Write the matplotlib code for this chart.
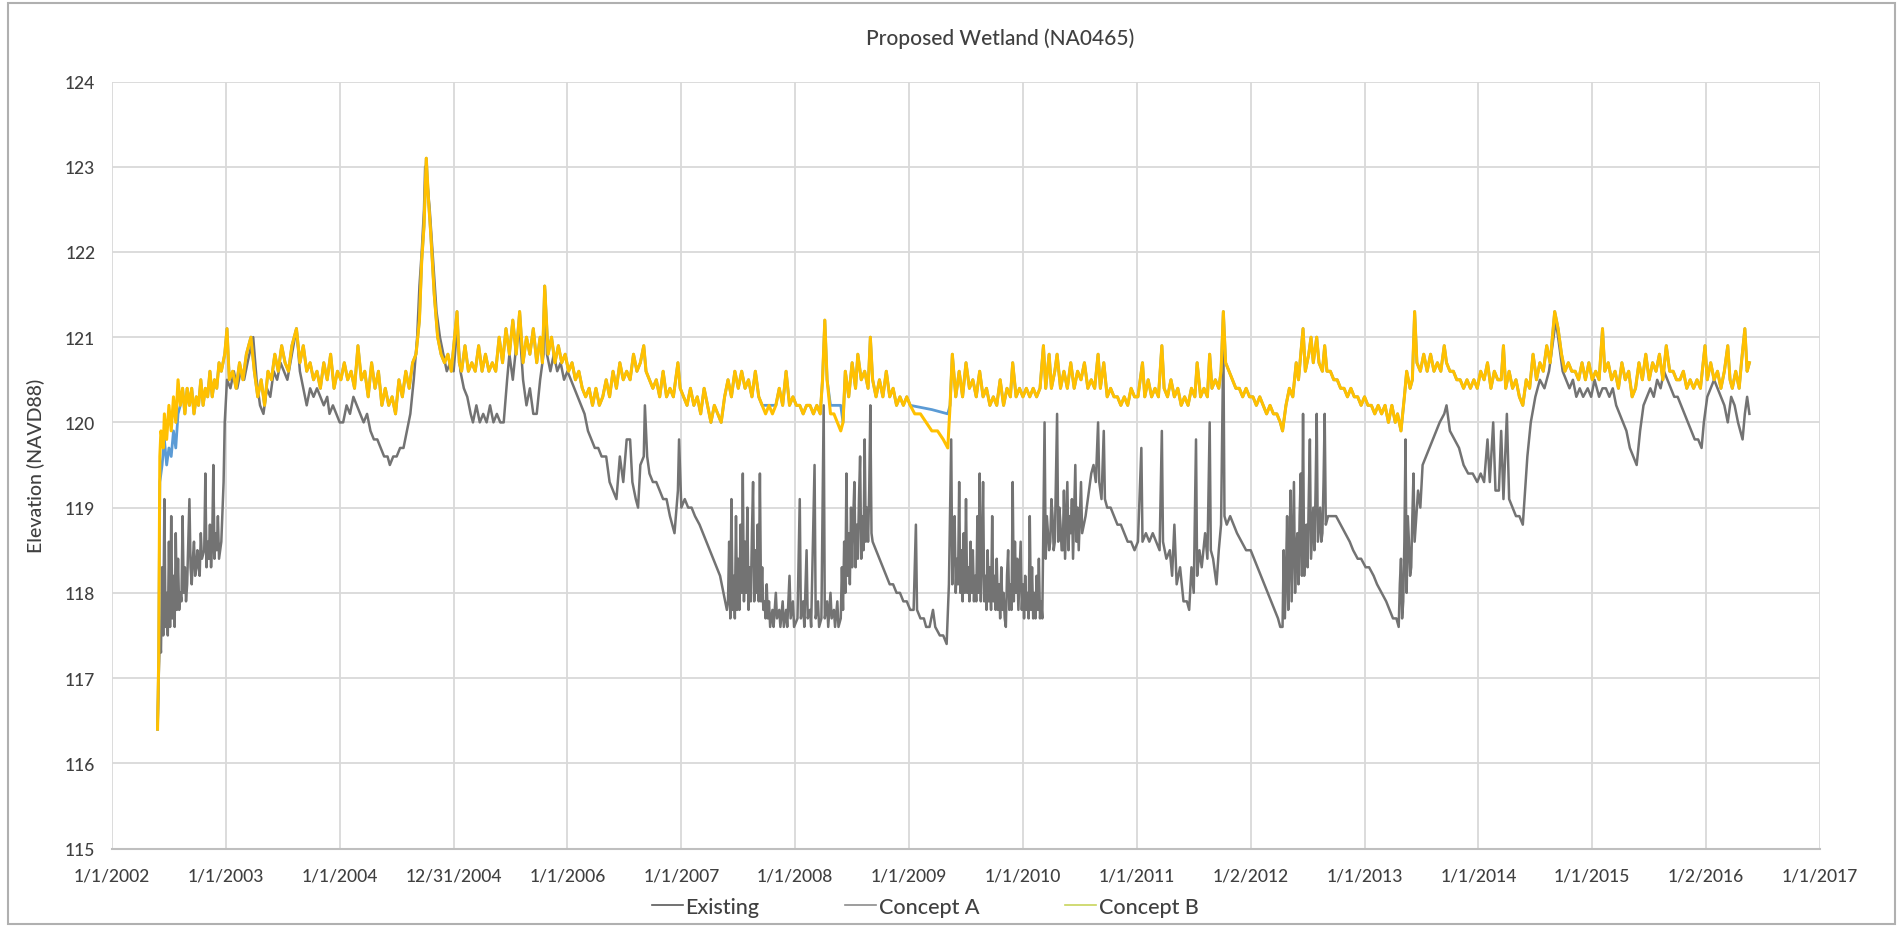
import matplotlib
matplotlib.use("Agg")
import matplotlib.pyplot as plt
from matplotlib.lines import Line2D
from matplotlib.patches import Rectangle

# Water surface elevation at the proposed wetland, model output
# (decimal year, elevation ft NAVD88)

existing = [
    (2002.40, 116.4), (2002.41, 117.0), (2002.42, 117.5), (2002.43, 117.3), (2002.44, 118.3),
    (2002.45, 117.5), (2002.46, 119.1), (2002.47, 117.6), (2002.48, 118.0), (2002.49, 117.5),
    (2002.50, 118.6), (2002.51, 117.6), (2002.52, 118.9), (2002.53, 117.7), (2002.54, 118.2),
    (2002.55, 117.6), (2002.56, 118.7), (2002.57, 117.8), (2002.58, 118.4), (2002.59, 117.8),
    (2002.60, 118.0), (2002.61, 117.9), (2002.62, 118.9), (2002.63, 118.0), (2002.64, 118.3),
    (2002.65, 117.9), (2002.66, 118.1), (2002.67, 118.6), (2002.68, 119.1), (2002.69, 118.3),
    (2002.70, 118.1), (2002.71, 118.4), (2002.72, 118.6), (2002.73, 118.2), (2002.74, 118.3),
    (2002.75, 118.5), (2002.76, 118.3), (2002.77, 118.2), (2002.78, 118.7), (2002.79, 118.4),
    (2002.81, 118.5), (2002.82, 119.4), (2002.83, 118.3), (2002.84, 118.6), (2002.85, 118.4),
    (2002.86, 118.8), (2002.87, 118.3), (2002.88, 118.6), (2002.89, 119.5), (2002.90, 118.4),
    (2002.91, 118.7), (2002.92, 118.5), (2002.93, 118.9), (2002.94, 118.4), (2002.96, 118.6),
    (2002.98, 119.3), (2002.99, 120.0), (2003.01, 120.5),
    (2003.04, 120.4), (2003.07, 120.6), (2003.10, 120.4), (2003.13, 120.6), (2003.16, 120.5),
    (2003.19, 120.7), (2003.24, 121.0), (2003.27, 120.5), (2003.30, 120.2), (2003.33, 120.1),
    (2003.36, 120.4), (2003.39, 120.3), (2003.42, 120.6), (2003.45, 120.5), (2003.48, 120.7),
    (2003.51, 120.6), (2003.54, 120.5), (2003.58, 120.8), (2003.62, 121.1), (2003.65, 120.6),
    (2003.68, 120.4), (2003.71, 120.2), (2003.74, 120.4), (2003.77, 120.3), (2003.80, 120.4),
    (2003.83, 120.3), (2003.86, 120.2), (2003.89, 120.3), (2003.91, 120.1), (2003.94, 120.2),
    (2003.97, 120.1), (2004.00, 120.0), (2004.03, 120.0), (2004.06, 120.2), (2004.09, 120.1),
    (2004.12, 120.3), (2004.15, 120.2), (2004.18, 120.1), (2004.21, 120.0), (2004.24, 120.1),
    (2004.27, 119.9), (2004.30, 119.8), (2004.33, 119.8), (2004.36, 119.7), (2004.39, 119.6),
    (2004.42, 119.6), (2004.44, 119.5), (2004.47, 119.6), (2004.50, 119.6), (2004.53, 119.7),
    (2004.56, 119.7), (2004.59, 119.9), (2004.62, 120.1), (2004.65, 120.5), (2004.68, 121.0),
    (2004.70, 121.6), (2004.72, 122.0), (2004.74, 122.5), (2004.75, 123.0), (2004.77, 122.8),
    (2004.79, 122.5), (2004.82, 121.9), (2004.85, 121.3), (2004.88, 121.0), (2004.91, 120.8),
    (2004.94, 120.6), (2004.97, 120.7), (2005.00, 120.6), (2005.03, 121.1), (2005.06, 120.6),
    (2005.09, 120.4), (2005.12, 120.3), (2005.15, 120.1), (2005.17, 120.0), (2005.20, 120.2),
    (2005.23, 120.0), (2005.26, 120.1), (2005.29, 120.0), (2005.32, 120.2), (2005.35, 120.0),
    (2005.38, 120.1), (2005.41, 120.0), (2005.44, 120.0), (2005.47, 120.5), (2005.49, 120.8),
    (2005.52, 120.5), (2005.55, 120.9), (2005.58, 121.1), (2005.61, 120.5), (2005.64, 120.2),
    (2005.67, 120.4), (2005.70, 120.1), (2005.73, 120.1), (2005.76, 120.5), (2005.79, 120.8),
    (2005.80, 121.6), (2005.82, 120.8), (2005.85, 120.6), (2005.88, 120.8), (2005.91, 120.6),
    (2005.94, 120.7), (2005.97, 120.5), (2006.00, 120.6), (2006.03, 120.5), (2006.06, 120.4),
    (2006.09, 120.3), (2006.12, 120.2), (2006.15, 120.1), (2006.18, 119.9), (2006.21, 119.8),
    (2006.24, 119.7), (2006.27, 119.7), (2006.30, 119.6), (2006.34, 119.6), (2006.37, 119.3),
    (2006.40, 119.2), (2006.43, 119.1), (2006.46, 119.6), (2006.49, 119.3), (2006.52, 119.8),
    (2006.55, 119.8), (2006.57, 119.3), (2006.60, 119.1), (2006.62, 119.0), (2006.64, 119.5),
    (2006.67, 119.6), (2006.68, 120.2), (2006.70, 119.6), (2006.72, 119.4), (2006.75, 119.3),
    (2006.78, 119.3), (2006.81, 119.2), (2006.84, 119.1), (2006.87, 119.1), (2006.90, 118.9),
    (2006.94, 118.7), (2006.97, 119.2), (2006.98, 119.8), (2007.00, 119.0), (2007.03, 119.1),
    (2007.06, 119.0), (2007.09, 119.0), (2007.12, 118.9), (2007.16, 118.8), (2007.19, 118.7),
    (2007.22, 118.6), (2007.25, 118.5), (2007.28, 118.4), (2007.31, 118.3), (2007.34, 118.2),
    (2007.37, 118.0), (2007.40, 117.8), (2007.41, 117.9), (2007.42, 118.6), (2007.43, 117.7),
    (2007.44, 119.1), (2007.45, 117.8), (2007.46, 118.2), (2007.47, 117.7), (2007.48, 118.9),
    (2007.49, 117.8), (2007.50, 118.4), (2007.51, 117.8), (2007.52, 118.8), (2007.53, 118.0),
    (2007.54, 119.4), (2007.55, 117.9), (2007.56, 118.6), (2007.57, 118.0), (2007.58, 119.0),
    (2007.59, 117.8), (2007.60, 118.3), (2007.61, 117.9), (2007.62, 118.7), (2007.63, 119.3),
    (2007.64, 117.9), (2007.65, 118.5), (2007.66, 118.0), (2007.67, 118.8), (2007.68, 117.9),
    (2007.69, 119.4), (2007.70, 117.9), (2007.71, 118.3), (2007.72, 117.8), (2007.73, 117.9),
    (2007.74, 117.7), (2007.75, 118.1), (2007.76, 117.7), (2007.77, 117.9), (2007.78, 117.6),
    (2007.80, 117.8), (2007.81, 117.6), (2007.83, 118.0), (2007.84, 117.7), (2007.86, 117.8),
    (2007.87, 117.6), (2007.89, 117.9), (2007.90, 117.6), (2007.92, 117.8), (2007.93, 117.6),
    (2007.95, 118.2), (2007.96, 117.7), (2007.98, 117.9), (2007.99, 117.6), (2008.02, 117.7),
    (2008.04, 119.1), (2008.05, 117.7), (2008.07, 117.9), (2008.08, 117.6), (2008.10, 118.5),
    (2008.11, 117.7), (2008.13, 117.8), (2008.14, 117.6), (2008.17, 119.5), (2008.18, 117.7),
    (2008.20, 117.9), (2008.21, 117.6), (2008.23, 117.7), (2008.25, 120.2), (2008.26, 117.7),
    (2008.28, 117.9), (2008.29, 117.6), (2008.31, 118.0), (2008.32, 117.7), (2008.34, 117.8),
    (2008.35, 117.6), (2008.37, 117.9), (2008.38, 117.6),
    (2008.40, 117.7), (2008.41, 118.3), (2008.42, 117.8), (2008.43, 118.6), (2008.44, 118.0),
    (2008.45, 119.4), (2008.46, 118.2), (2008.47, 118.7), (2008.48, 118.1), (2008.49, 119.0),
    (2008.50, 118.3), (2008.51, 118.9), (2008.52, 119.3), (2008.53, 118.3), (2008.54, 118.8),
    (2008.55, 118.4), (2008.56, 119.1), (2008.57, 119.6), (2008.58, 118.4), (2008.59, 118.9),
    (2008.60, 118.5), (2008.61, 119.8), (2008.62, 118.6), (2008.63, 119.0), (2008.64, 118.6),
    (2008.65, 119.2), (2008.66, 120.2), (2008.67, 118.7), (2008.68, 118.6), (2008.71, 118.5),
    (2008.74, 118.4), (2008.77, 118.3), (2008.80, 118.2), (2008.83, 118.1), (2008.86, 118.1),
    (2008.89, 118.0), (2008.92, 118.0), (2008.95, 117.9), (2008.98, 117.9), (2009.01, 117.8),
    (2009.04, 117.8), (2009.06, 118.8), (2009.07, 117.8), (2009.10, 117.7), (2009.13, 117.7),
    (2009.15, 117.6), (2009.18, 117.6), (2009.21, 117.8), (2009.23, 117.6), (2009.27, 117.5),
    (2009.30, 117.5), (2009.33, 117.4), (2009.35, 118.1), (2009.37, 119.8), (2009.38, 118.1),
    (2009.39, 118.6), (2009.40, 118.9), (2009.41, 118.0), (2009.42, 118.4), (2009.43, 118.1),
    (2009.44, 119.3), (2009.45, 118.0), (2009.46, 118.5), (2009.47, 117.9), (2009.48, 118.7),
    (2009.49, 118.0), (2009.50, 119.1), (2009.51, 118.0), (2009.52, 118.3), (2009.53, 117.9),
    (2009.54, 118.6), (2009.55, 118.0), (2009.56, 118.5), (2009.57, 117.9), (2009.58, 118.2),
    (2009.59, 117.9), (2009.60, 118.9), (2009.61, 118.0), (2009.62, 119.4), (2009.63, 117.9),
    (2009.64, 118.4), (2009.65, 119.3), (2009.66, 117.9), (2009.67, 118.2), (2009.68, 117.8),
    (2009.69, 118.5), (2009.70, 117.9), (2009.71, 118.3), (2009.72, 117.8), (2009.73, 118.9),
    (2009.74, 117.9), (2009.75, 118.2), (2009.76, 117.8), (2009.77, 118.4), (2009.78, 117.8),
    (2009.79, 118.1), (2009.80, 117.7), (2009.81, 118.3), (2009.82, 117.8), (2009.83, 118.0),
    (2009.84, 117.7), (2009.85, 117.6), (2009.86, 118.2), (2009.87, 118.5), (2009.88, 117.8),
    (2009.89, 118.1), (2009.90, 117.8), (2009.91, 119.3), (2009.92, 117.9), (2009.93, 118.6),
    (2009.94, 118.0), (2009.95, 118.4), (2009.96, 117.8), (2009.97, 118.2), (2009.98, 118.6),
    (2009.99, 117.8), (2010.00, 118.1), (2010.01, 117.7), (2010.02, 118.2), (2010.03, 117.8),
    (2010.04, 118.0), (2010.05, 117.7), (2010.06, 118.9), (2010.07, 117.8), (2010.08, 118.3),
    (2010.09, 117.7), (2010.10, 118.0), (2010.11, 117.7), (2010.12, 118.2), (2010.13, 117.8),
    (2010.14, 118.4), (2010.15, 117.7), (2010.16, 117.9), (2010.17, 117.7),
    (2010.19, 120.0), (2010.20, 118.4), (2010.21, 118.9), (2010.22, 118.7), (2010.23, 118.5),
    (2010.24, 118.6), (2010.25, 119.1), (2010.26, 118.9), (2010.27, 118.5), (2010.28, 118.6),
    (2010.30, 120.1), (2010.31, 118.6), (2010.32, 119.0), (2010.33, 118.8), (2010.34, 118.5),
    (2010.35, 118.5), (2010.36, 119.2), (2010.37, 118.4), (2010.39, 119.3), (2010.40, 118.5),
    (2010.41, 118.9), (2010.42, 118.7), (2010.43, 119.1), (2010.44, 118.4), (2010.46, 119.5),
    (2010.47, 118.6), (2010.48, 119.0), (2010.49, 118.5), (2010.51, 119.3), (2010.52, 118.7),
    (2010.55, 118.9), (2010.58, 119.2), (2010.60, 119.4), (2010.62, 119.5), (2010.64, 119.3),
    (2010.66, 120.0), (2010.67, 119.3), (2010.69, 119.1), (2010.71, 119.9), (2010.72, 119.1),
    (2010.74, 119.0), (2010.77, 119.0), (2010.80, 118.9), (2010.83, 118.8), (2010.86, 118.8),
    (2010.89, 118.7), (2010.92, 118.6), (2010.95, 118.6), (2010.98, 118.5), (2011.01, 118.6),
    (2011.04, 119.7), (2011.05, 118.6), (2011.08, 118.7), (2011.11, 118.6), (2011.14, 118.7),
    (2011.17, 118.6), (2011.20, 118.5), (2011.22, 119.9), (2011.23, 118.6), (2011.26, 118.4),
    (2011.29, 118.5), (2011.31, 118.2), (2011.33, 118.8), (2011.35, 118.1), (2011.38, 118.3),
    (2011.41, 117.9), (2011.44, 117.9), (2011.46, 117.8), (2011.48, 118.3), (2011.50, 118.0),
    (2011.52, 119.8), (2011.53, 118.2), (2011.55, 118.5), (2011.57, 118.3), (2011.60, 118.7),
    (2011.62, 118.4), (2011.64, 120.0), (2011.65, 118.5), (2011.67, 118.4), (2011.70, 118.1),
    (2011.72, 118.5), (2011.74, 118.8), (2011.76, 121.0), (2011.77, 118.9), (2011.79, 118.8),
    (2011.82, 118.9), (2011.85, 118.8), (2011.88, 118.7), (2011.92, 118.6), (2011.96, 118.5),
    (2012.00, 118.5), (2012.03, 118.4), (2012.06, 118.3), (2012.09, 118.2), (2012.12, 118.1),
    (2012.15, 118.0), (2012.18, 117.9), (2012.21, 117.8), (2012.24, 117.7), (2012.26, 117.6),
    (2012.28, 117.6), (2012.29, 118.5), (2012.30, 117.7), (2012.31, 118.2), (2012.32, 118.9),
    (2012.33, 117.8), (2012.34, 118.4), (2012.35, 119.2), (2012.36, 117.9), (2012.37, 118.6),
    (2012.38, 119.3), (2012.39, 118.0), (2012.40, 118.5), (2012.41, 118.7), (2012.42, 118.1),
    (2012.43, 118.9), (2012.44, 119.4), (2012.45, 118.2), (2012.46, 120.1), (2012.47, 118.2),
    (2012.48, 118.6), (2012.49, 118.8), (2012.50, 118.3), (2012.51, 119.1), (2012.52, 119.8),
    (2012.53, 118.4), (2012.54, 118.7), (2012.55, 119.0), (2012.56, 118.5), (2012.57, 119.2),
    (2012.58, 120.1), (2012.59, 118.6), (2012.60, 118.8), (2012.61, 119.0), (2012.62, 118.6),
    (2012.63, 118.7), (2012.64, 119.3), (2012.65, 120.1), (2012.66, 118.8),
    (2012.68, 118.9), (2012.71, 118.9), (2012.75, 118.9), (2012.79, 118.8),
    (2012.83, 118.7), (2012.87, 118.6), (2012.90, 118.5), (2012.94, 118.4), (2012.97, 118.4),
    (2013.01, 118.3), (2013.04, 118.3), (2013.08, 118.2), (2013.11, 118.1), (2013.15, 118.0),
    (2013.19, 117.9), (2013.22, 117.8), (2013.25, 117.7), (2013.28, 117.7), (2013.30, 117.6),
    (2013.31, 118.1), (2013.32, 118.4), (2013.33, 117.7), (2013.34, 117.9), (2013.35, 118.6),
    (2013.36, 119.8), (2013.37, 118.0), (2013.38, 118.9), (2013.39, 118.6), (2013.40, 118.2),
    (2013.41, 118.3), (2013.42, 118.9), (2013.43, 119.4), (2013.44, 118.6), (2013.45, 118.8),
    (2013.47, 119.2), (2013.49, 119.0),
    (2013.51, 119.5), (2013.54, 119.6), (2013.57, 119.7), (2013.60, 119.8), (2013.63, 119.9),
    (2013.66, 120.0), (2013.70, 120.1), (2013.72, 120.2), (2013.75, 119.9), (2013.79, 119.8),
    (2013.83, 119.7), (2013.87, 119.5), (2013.91, 119.4), (2013.95, 119.4), (2013.99, 119.3),
    (2014.02, 119.4), (2014.05, 119.3), (2014.08, 119.8), (2014.10, 119.3), (2014.13, 120.0),
    (2014.15, 119.2), (2014.18, 119.2), (2014.20, 119.9), (2014.22, 119.1), (2014.25, 120.1),
    (2014.27, 119.1), (2014.30, 119.0), (2014.33, 118.9), (2014.36, 118.9), (2014.39, 118.8),
    (2014.41, 119.2), (2014.43, 119.6), (2014.46, 120.0), (2014.50, 120.3), (2014.54, 120.5),
    (2014.58, 120.4), (2014.62, 120.6), (2014.66, 121.0), (2014.68, 121.2), (2014.71, 120.9),
    (2014.74, 120.6), (2014.77, 120.5), (2014.80, 120.4), (2014.83, 120.5), (2014.86, 120.3),
    (2014.89, 120.4), (2014.92, 120.3), (2014.96, 120.4), (2014.99, 120.3), (2015.02, 120.5),
    (2015.06, 120.3), (2015.09, 120.4), (2015.12, 120.4), (2015.15, 120.3), (2015.18, 120.4),
    (2015.21, 120.2), (2015.24, 120.1), (2015.27, 120.0), (2015.30, 119.9), (2015.33, 119.7),
    (2015.36, 119.6), (2015.39, 119.5), (2015.42, 119.9), (2015.45, 120.2), (2015.48, 120.3),
    (2015.51, 120.4), (2015.54, 120.3), (2015.57, 120.5), (2015.60, 120.4), (2015.63, 120.6),
    (2015.66, 120.5), (2015.69, 120.4), (2015.72, 120.3), (2015.75, 120.3), (2015.78, 120.2),
    (2015.81, 120.1), (2015.84, 120.0), (2015.87, 119.9), (2015.90, 119.8), (2015.93, 119.8),
    (2015.96, 119.7), (2015.98, 120.0), (2016.01, 120.3), (2016.04, 120.4), (2016.07, 120.5),
    (2016.10, 120.4), (2016.13, 120.3), (2016.16, 120.2), (2016.19, 120.0), (2016.22, 120.3),
    (2016.25, 120.2), (2016.28, 120.0), (2016.30, 119.9), (2016.32, 119.8), (2016.34, 120.1),
    (2016.36, 120.3), (2016.38, 120.1),
]

concept_b = [
    (2002.40, 116.4), (2002.41, 117.2), (2002.42, 119.6), (2002.43, 119.9), (2002.45, 119.7),
    (2002.46, 120.1), (2002.48, 119.8), (2002.50, 120.2), (2002.52, 119.9), (2002.54, 120.3),
    (2002.56, 120.0), (2002.58, 120.5), (2002.60, 120.2), (2002.62, 120.4), (2002.64, 120.1),
    (2002.66, 120.4), (2002.68, 120.2), (2002.70, 120.4), (2002.72, 120.1), (2002.74, 120.3),
    (2002.76, 120.2), (2002.78, 120.5), (2002.80, 120.2), (2002.82, 120.4), (2002.84, 120.3),
    (2002.86, 120.6), (2002.88, 120.3), (2002.90, 120.5), (2002.92, 120.4), (2002.94, 120.7),
    (2002.96, 120.6), (2002.99, 120.8), (2003.01, 121.1), (2003.03, 120.5), (2003.06, 120.6),
    (2003.09, 120.4), (2003.12, 120.7), (2003.15, 120.5), (2003.18, 120.8), (2003.22, 121.0),
    (2003.25, 120.6), (2003.28, 120.3), (2003.31, 120.5), (2003.34, 120.2), (2003.37, 120.6),
    (2003.40, 120.5), (2003.43, 120.8), (2003.46, 120.6), (2003.49, 120.9), (2003.52, 120.7),
    (2003.55, 120.6), (2003.58, 120.9), (2003.62, 121.1), (2003.65, 120.7), (2003.68, 120.9),
    (2003.71, 120.6), (2003.74, 120.7), (2003.77, 120.5), (2003.80, 120.6), (2003.83, 120.4),
    (2003.86, 120.7), (2003.89, 120.5), (2003.92, 120.8), (2003.95, 120.4), (2003.98, 120.6),
    (2004.01, 120.5), (2004.04, 120.7), (2004.07, 120.5), (2004.10, 120.6), (2004.13, 120.4),
    (2004.16, 120.9), (2004.19, 120.5), (2004.22, 120.6), (2004.25, 120.3), (2004.28, 120.7),
    (2004.31, 120.4), (2004.34, 120.6), (2004.37, 120.2), (2004.40, 120.4), (2004.43, 120.2),
    (2004.46, 120.3), (2004.49, 120.1), (2004.52, 120.5), (2004.55, 120.3), (2004.58, 120.6),
    (2004.61, 120.4), (2004.64, 120.7), (2004.67, 120.8), (2004.70, 121.2), (2004.72, 121.9),
    (2004.74, 122.3), (2004.76, 123.1), (2004.78, 122.6), (2004.80, 122.2), (2004.83, 121.5),
    (2004.86, 121.0), (2004.89, 120.8), (2004.92, 120.7), (2004.95, 120.8), (2004.98, 120.6),
    (2005.03, 121.3), (2005.05, 120.7), (2005.07, 120.6), (2005.10, 120.9), (2005.13, 120.6),
    (2005.16, 120.7), (2005.19, 120.6), (2005.22, 120.9), (2005.25, 120.6), (2005.28, 120.8),
    (2005.31, 120.6), (2005.34, 120.7), (2005.37, 120.6), (2005.40, 121.0), (2005.43, 120.7),
    (2005.46, 121.1), (2005.49, 120.8), (2005.52, 121.2), (2005.55, 120.8), (2005.58, 121.3),
    (2005.61, 120.7), (2005.64, 121.0), (2005.67, 120.8), (2005.70, 121.1), (2005.73, 120.7),
    (2005.76, 121.0), (2005.78, 120.7), (2005.80, 121.6), (2005.83, 120.8), (2005.86, 121.0),
    (2005.89, 120.7), (2005.92, 120.9), (2005.95, 120.7), (2005.98, 120.8), (2006.01, 120.6),
    (2006.04, 120.7), (2006.07, 120.5), (2006.10, 120.6), (2006.13, 120.4), (2006.16, 120.3),
    (2006.19, 120.4), (2006.22, 120.2), (2006.25, 120.4), (2006.28, 120.2), (2006.31, 120.3),
    (2006.34, 120.5), (2006.37, 120.3), (2006.40, 120.6), (2006.43, 120.4), (2006.46, 120.7),
    (2006.49, 120.5), (2006.52, 120.6), (2006.55, 120.5), (2006.58, 120.8), (2006.61, 120.6),
    (2006.64, 120.7), (2006.67, 120.9), (2006.69, 120.6), (2006.72, 120.5), (2006.75, 120.4),
    (2006.78, 120.5), (2006.81, 120.3), (2006.84, 120.6), (2006.87, 120.3), (2006.90, 120.4),
    (2006.93, 120.3), (2006.97, 120.7), (2006.99, 120.4), (2007.02, 120.3), (2007.05, 120.2),
    (2007.08, 120.4), (2007.11, 120.2), (2007.14, 120.3), (2007.17, 120.1), (2007.20, 120.4),
    (2007.23, 120.2), (2007.26, 120.0), (2007.29, 120.2), (2007.32, 120.1), (2007.35, 120.0),
    (2007.38, 120.3), (2007.41, 120.5), (2007.44, 120.3), (2007.47, 120.6), (2007.50, 120.4),
    (2007.53, 120.6), (2007.56, 120.4), (2007.59, 120.5), (2007.62, 120.3), (2007.65, 120.6),
    (2007.68, 120.3), (2007.71, 120.2), (2007.74, 120.1), (2007.77, 120.2), (2007.80, 120.1),
    (2007.83, 120.2), (2007.86, 120.4), (2007.89, 120.2), (2007.92, 120.6), (2007.95, 120.2),
    (2007.98, 120.3), (2008.01, 120.2), (2008.04, 120.2), (2008.07, 120.1), (2008.10, 120.2),
    (2008.13, 120.2), (2008.16, 120.1), (2008.19, 120.2), (2008.22, 120.1), (2008.24, 120.5),
    (2008.26, 121.2), (2008.28, 120.5), (2008.31, 120.1), (2008.34, 120.1), (2008.37, 120.0),
    (2008.40, 119.9), (2008.42, 120.0), (2008.44, 120.6), (2008.47, 120.3), (2008.50, 120.7),
    (2008.53, 120.4), (2008.55, 120.8), (2008.58, 120.5), (2008.61, 120.6), (2008.64, 120.4),
    (2008.66, 121.0), (2008.68, 120.5), (2008.71, 120.3), (2008.74, 120.5), (2008.77, 120.3),
    (2008.80, 120.6), (2008.83, 120.3), (2008.86, 120.4), (2008.89, 120.2), (2008.92, 120.3),
    (2008.95, 120.2), (2008.98, 120.3), (2009.01, 120.2), (2009.05, 120.1), (2009.10, 120.1),
    (2009.15, 120.0), (2009.20, 119.9), (2009.25, 119.9), (2009.30, 119.8), (2009.34, 119.7),
    (2009.36, 120.2), (2009.38, 120.8), (2009.41, 120.3), (2009.44, 120.6), (2009.47, 120.3),
    (2009.50, 120.7), (2009.53, 120.4), (2009.56, 120.5), (2009.59, 120.3), (2009.62, 120.6),
    (2009.65, 120.3), (2009.68, 120.4), (2009.71, 120.2), (2009.74, 120.3), (2009.77, 120.2),
    (2009.80, 120.5), (2009.83, 120.2), (2009.86, 120.4), (2009.89, 120.3), (2009.91, 120.7),
    (2009.94, 120.3), (2009.97, 120.4), (2010.00, 120.3), (2010.03, 120.4), (2010.06, 120.3),
    (2010.09, 120.4), (2010.12, 120.3), (2010.15, 120.4), (2010.18, 120.9), (2010.20, 120.4),
    (2010.23, 120.8), (2010.25, 120.4), (2010.28, 120.6), (2010.30, 120.8), (2010.33, 120.4),
    (2010.36, 120.6), (2010.39, 120.4), (2010.42, 120.7), (2010.45, 120.4), (2010.48, 120.6),
    (2010.51, 120.5), (2010.54, 120.7), (2010.57, 120.4), (2010.60, 120.5), (2010.63, 120.4),
    (2010.66, 120.8), (2010.68, 120.4), (2010.71, 120.7), (2010.74, 120.3), (2010.77, 120.4),
    (2010.80, 120.3), (2010.83, 120.3), (2010.86, 120.2), (2010.89, 120.3), (2010.92, 120.2),
    (2010.95, 120.4), (2010.98, 120.3), (2011.01, 120.3), (2011.05, 120.7), (2011.07, 120.3),
    (2011.10, 120.5), (2011.13, 120.3), (2011.16, 120.4), (2011.19, 120.3), (2011.22, 120.9),
    (2011.24, 120.4), (2011.27, 120.3), (2011.30, 120.5), (2011.33, 120.3), (2011.36, 120.4),
    (2011.39, 120.2), (2011.42, 120.3), (2011.45, 120.2), (2011.48, 120.4), (2011.51, 120.3),
    (2011.53, 120.7), (2011.56, 120.3), (2011.59, 120.4), (2011.62, 120.3), (2011.64, 120.8),
    (2011.66, 120.4), (2011.69, 120.5), (2011.72, 120.4), (2011.74, 120.6), (2011.76, 121.3),
    (2011.78, 120.7), (2011.81, 120.6), (2011.84, 120.5), (2011.87, 120.4), (2011.90, 120.4),
    (2011.93, 120.3), (2011.96, 120.4), (2011.99, 120.3), (2012.02, 120.3), (2012.05, 120.2),
    (2012.08, 120.3), (2012.11, 120.2), (2012.14, 120.1), (2012.17, 120.2), (2012.20, 120.1),
    (2012.23, 120.1), (2012.26, 120.0), (2012.28, 119.9), (2012.31, 120.2), (2012.34, 120.4),
    (2012.37, 120.3), (2012.40, 120.7), (2012.42, 120.5), (2012.44, 120.8), (2012.46, 121.1),
    (2012.48, 120.6), (2012.51, 120.8), (2012.53, 121.0), (2012.55, 120.7), (2012.58, 121.0),
    (2012.60, 120.7), (2012.63, 120.6), (2012.65, 120.9), (2012.67, 120.6), (2012.70, 120.6),
    (2012.73, 120.5), (2012.76, 120.5), (2012.79, 120.4), (2012.82, 120.4), (2012.85, 120.3),
    (2012.88, 120.4), (2012.91, 120.3), (2012.94, 120.3), (2012.97, 120.2), (2013.00, 120.3),
    (2013.03, 120.2), (2013.06, 120.2), (2013.09, 120.1), (2013.12, 120.2), (2013.15, 120.1),
    (2013.18, 120.2), (2013.21, 120.0), (2013.24, 120.2), (2013.27, 120.0), (2013.29, 120.1),
    (2013.32, 119.9), (2013.35, 120.3), (2013.37, 120.6), (2013.40, 120.4), (2013.42, 120.5),
    (2013.44, 121.3), (2013.46, 120.7), (2013.49, 120.6), (2013.52, 120.8), (2013.55, 120.6),
    (2013.58, 120.8), (2013.61, 120.6), (2013.64, 120.7), (2013.67, 120.6), (2013.70, 120.9),
    (2013.72, 120.7), (2013.75, 120.6), (2013.78, 120.6), (2013.81, 120.5), (2013.84, 120.5),
    (2013.87, 120.4), (2013.90, 120.5), (2013.93, 120.4), (2013.96, 120.5), (2013.99, 120.4),
    (2014.02, 120.6), (2014.05, 120.5), (2014.08, 120.7), (2014.11, 120.4), (2014.14, 120.6),
    (2014.17, 120.5), (2014.20, 120.5), (2014.22, 120.9), (2014.24, 120.4), (2014.27, 120.6),
    (2014.30, 120.4), (2014.33, 120.5), (2014.36, 120.3), (2014.39, 120.2), (2014.42, 120.5),
    (2014.45, 120.4), (2014.48, 120.8), (2014.51, 120.5), (2014.54, 120.7), (2014.57, 120.6),
    (2014.60, 120.9), (2014.63, 120.7), (2014.65, 121.0), (2014.67, 121.3), (2014.70, 121.1),
    (2014.73, 120.8), (2014.76, 120.6), (2014.79, 120.7), (2014.82, 120.6), (2014.85, 120.6),
    (2014.88, 120.5), (2014.91, 120.7), (2014.94, 120.5), (2014.97, 120.7), (2015.00, 120.5),
    (2015.03, 120.6), (2015.06, 120.5), (2015.09, 121.1), (2015.11, 120.6), (2015.14, 120.7),
    (2015.17, 120.5), (2015.20, 120.6), (2015.23, 120.4), (2015.26, 120.7), (2015.29, 120.5),
    (2015.32, 120.6), (2015.35, 120.3), (2015.38, 120.4), (2015.41, 120.7), (2015.44, 120.5),
    (2015.47, 120.8), (2015.50, 120.5), (2015.53, 120.7), (2015.56, 120.6), (2015.59, 120.8),
    (2015.62, 120.5), (2015.65, 120.9), (2015.68, 120.6), (2015.71, 120.6), (2015.74, 120.5),
    (2015.77, 120.5), (2015.80, 120.6), (2015.83, 120.4), (2015.86, 120.5), (2015.89, 120.4),
    (2015.92, 120.5), (2015.95, 120.4), (2015.99, 120.9), (2016.01, 120.5), (2016.04, 120.7),
    (2016.07, 120.5), (2016.10, 120.6), (2016.13, 120.4), (2016.16, 120.6), (2016.19, 120.9),
    (2016.21, 120.5), (2016.23, 120.4), (2016.26, 120.6), (2016.29, 120.4), (2016.31, 120.7),
    (2016.34, 121.1), (2016.36, 120.6), (2016.38, 120.7),
]

# Concept A runs with Concept B except for these stretches
concept_a_diff = [
    (2002.41, 117.2), (2002.42, 119.3), (2002.44, 119.5), (2002.46, 119.8), (2002.48, 119.5),
    (2002.50, 119.7), (2002.52, 119.6), (2002.54, 119.9), (2002.56, 119.7), (2002.58, 120.1),
    (2002.60, 120.2),
    (2007.71, 120.2), (2007.80, 120.2),
    (2008.31, 120.2), (2008.40, 120.2),
    (2009.01, 120.2), (2009.20, 120.15), (2009.34, 120.1),
]
concept_a_windows = [(2002.405, 2002.605), (2007.705, 2007.805), (2008.305, 2008.405), (2009.005, 2009.345)]

x_tick_labels = ["1/1/2002", "1/1/2003", "1/1/2004", "12/31/2004", "1/1/2006", "1/1/2007",
                 "1/1/2008", "1/1/2009", "1/1/2010", "1/1/2011", "1/2/2012", "1/1/2013",
                 "1/1/2014", "1/1/2015", "1/2/2016", "1/1/2017"]
y_ticks = [115, 116, 117, 118, 119, 120, 121, 122, 123, 124]

concept_a = [p for p in concept_b if not any(lo <= p[0] <= hi for lo, hi in concept_a_windows)]
concept_a = sorted(concept_a + concept_a_diff)

plt.rcParams['font.family'] = ['Lato', 'DejaVu Sans']
plt.rcParams['font.weight'] = 'medium'
text_color = '#404040'

W, H = 1903, 929
fig = plt.figure(figsize=(W / 100, H / 100), dpi=100)
fig.patch.set_facecolor('white')
ax = fig.add_axes([112 / W, 1 - 849.5 / H, (1820 - 112) / W, (849.5 - 82.5) / H])

ax.plot(*zip(*existing), color='#737373', lw=1.8, zorder=3)
ax.plot(*zip(*concept_a), color='#5B9BD5', lw=2.0, zorder=4)
ax.plot(*zip(*concept_b), color='#FFC000', lw=2.2, zorder=5)

ax.set_xlim(2002, 2017)
ax.set_ylim(115, 124)
ax.set_xticks(range(2002, 2018))
ax.set_xticklabels(x_tick_labels)
ax.set_yticks(y_ticks)
ax.grid(True, color='#D9D9D9', lw=1.3, zorder=0)
ax.set_axisbelow(True)
for side in ['top', 'right', 'left']:
    ax.spines[side].set_visible(False)
ax.spines['bottom'].set_color('#BFBFBF')
ax.spines['bottom'].set_linewidth(1.5)
ax.tick_params(axis='both', length=0, labelsize=12.5, colors=text_color)
ax.tick_params(axis='x', pad=14)
ax.tick_params(axis='y', pad=12)

fig.text(1000 / W, 1 - 39 / H, "Proposed Wetland (NA0465)", ha='center', va='center',
         fontsize=15, color=text_color)
fig.text(36 / W, 1 - 466 / H, "Elevation (NAVD88)", ha='center', va='center',
         rotation=90, fontsize=14, color=text_color)

handles = [Line2D([], [], color='#5a5a5a', lw=1.2),
           Line2D([], [], color='#8c8c8c', lw=1.2),
           Line2D([], [], color='#c8d45c', lw=1.2)]
fig.legend(handles, ["Existing", "Concept A", "Concept B"], loc='center',
           bbox_to_anchor=(925 / W, 1 - 908 / H), ncol=3, frameon=False,
           fontsize=15.5, labelcolor=text_color, handlelength=1.45,
           handletextpad=0.1, columnspacing=4.0)

# chart area border
fig.add_artist(Rectangle((8 / W, 4 / H), (1895 - 8) / W, (925 - 4) / H,
                         transform=fig.transFigure, fill=False,
                         edgecolor='#b0b0b0', lw=1.5))

fig.savefig("out.png", dpi=100)
